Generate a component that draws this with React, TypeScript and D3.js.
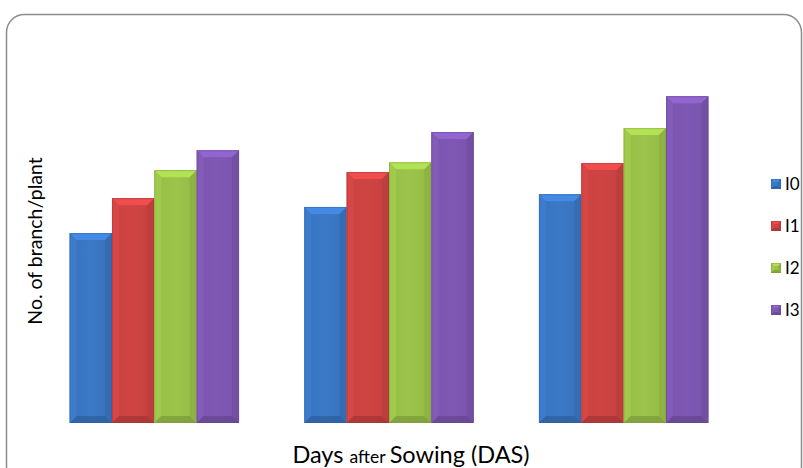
import React from "react";
import * as d3 from "d3";

const categories = ["30 DAS", "60 DAS", "90 DAS"];
const seriesNames = ["I0", "I1", "I2", "I3"];
const valuesI0 = [5.83, 6.63, 7.02];
const valuesI1 = [6.9, 7.7, 7.98];
const valuesI2 = [7.76, 8.0, 9.05];
const valuesI3 = [8.37, 8.93, 10.03];
const seriesValues = [valuesI0, valuesI1, valuesI2, valuesI3];
const colors = ["#3b78c6", "#cf4443", "#9cc44a", "#7f58b4"];

const W = 803;
const H = 468;
const FONT = "Lato, 'Liberation Sans', sans-serif";

function Bar({ x, y, w, h, color, id, bevel = 7 }: { x: number; y: number; w: number; h: number; color: string; id: string; bevel?: number }) {
  const b = Math.min(bevel, h / 2);
  const c = d3.color(color)!;
  const light = c.brighter(0.4).formatHex();
  const lightSide = c.brighter(0.12).formatHex();
  const dark = c.darker(0.3).formatHex();
  const darker = c.darker(0.65).formatHex();
  return (
    <g>
      <defs>
        <linearGradient id={id} x1="0" y1="0" x2="1" y2="0">
          <stop offset="0" stopColor={c.darker(0.1).formatHex()} />
          <stop offset="0.5" stopColor={color} />
          <stop offset="1" stopColor={c.darker(0.15).formatHex()} />
        </linearGradient>
      </defs>
      <rect x={x} y={y} width={w} height={h} fill={`url(#${id})`} />
      <polygon points={`${x},${y} ${x + w},${y} ${x + w - b},${y + b} ${x + b},${y + b}`} fill={light} />
      <polygon points={`${x},${y} ${x + b},${y + b} ${x + b},${y + h - b} ${x},${y + h}`} fill={lightSide} opacity={0.8} />
      <polygon points={`${x + w},${y} ${x + w},${y + h} ${x + w - b},${y + h - b} ${x + w - b},${y + b}`} fill={dark} opacity={0.8} />
      <polygon points={`${x},${y + h} ${x + b},${y + h - b} ${x + w - b},${y + h - b} ${x + w},${y + h}`} fill={darker} opacity={0.75} />
      <rect x={x + 0.5} y={y + 0.5} width={w - 1} height={h - 1} fill="none" stroke={darker} strokeOpacity={0.45} strokeWidth={1} />
    </g>
  );
}

export default function App() {
  const x0 = d3.scaleBand<string>().domain(categories).range([37, 741]).paddingInner(0.278).paddingOuter(0.139);
  const x1 = d3.scaleBand<string>().domain(seriesNames).range([0, x0.bandwidth()]).padding(0);
  const y = d3.scaleLinear().domain([0, 12]).range([423, 32]);

  const legendY = d3.scalePoint<string>().domain(seriesNames).range([184, 310]);

  return (
    <svg width={W} height={H} style={{ position: "absolute", left: 0, top: 0, display: "block", background: "#fff" }}>
      <rect x={6.5} y={14.5} width={795} height={470} rx={18} ry={18} fill="#fff" stroke="#8c8c8c" strokeWidth={1.5} />
      {categories.map((cat, ci) =>
        seriesNames.map((s, si) => {
          const v = seriesValues[si][ci];
          const bx = (x0(cat) as number) + (x1(s) as number);
          const by = y(v);
          return (
            <Bar key={`${ci}-${si}`} id={`g${ci}${si}`} x={bx} y={by} w={x1.bandwidth()} h={y(0) - by} color={colors[si]} />
          );
        })
      )}
      <text
        transform={`translate(42,241) rotate(-90)`}
        textAnchor="middle"
        fontFamily={FONT}
        fontSize={19.5}
        fill="#000"
      >
        No. of branch/plant
      </text>
      <text x={411} y={463} textAnchor="middle" fontFamily={FONT} fill="#000">
        <tspan fontSize={23.5}>Days </tspan>
        <tspan fontSize={17.5}>after </tspan>
        <tspan fontSize={23.5}>Sowing (DAS)</tspan>
      </text>
      {seriesNames.map((s, i) => {
        const ly = legendY(s) as number;
        return (
          <g key={s}>
            <Bar id={`lg${i}`} x={771} y={ly - 5} w={10} h={10} color={colors[i]} bevel={3} />
            <text x={785} y={ly + 6} fontFamily={FONT} fontSize={17} fill="#000">
              {s}
            </text>
          </g>
        );
      })}
    </svg>
  );
}
